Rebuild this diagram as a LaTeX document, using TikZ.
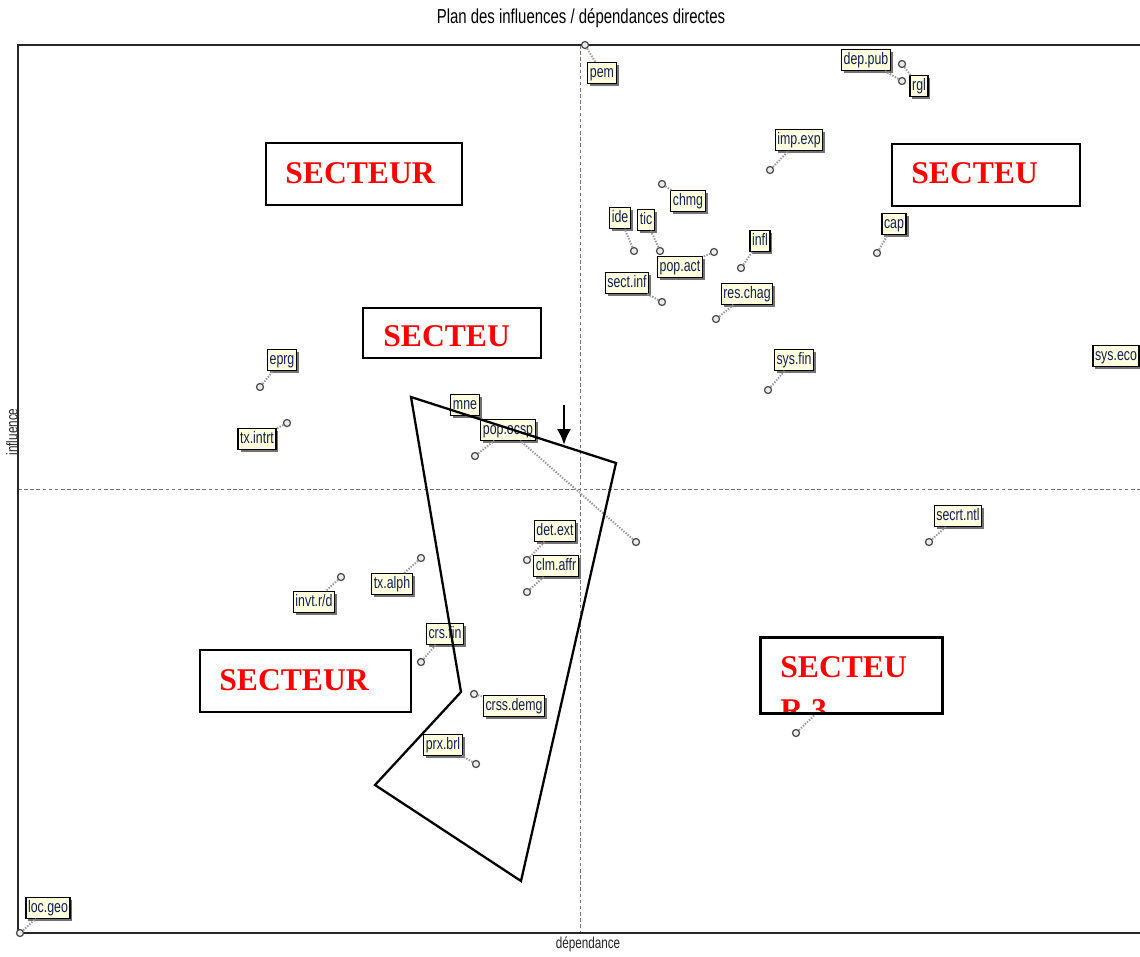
\documentclass[tikz,border=0pt]{standalone}
\usepackage{fontspec}
\setmainfont{Liberation Sans}
\newfontfamily\narrowfont[FakeStretch=0.74]{Liberation Sans}
\newfontfamily\secfont{Liberation Serif}
\usetikzlibrary{shadows,arrows.meta}
\definecolor{labfill}{HTML}{FFFFE0}
\definecolor{labtext}{HTML}{102050}
\definecolor{secred}{HTML}{FF0000}
\tikzset{
  lab/.style={draw=black, line width=0.7pt, fill=labfill, inner sep=1.2pt,
    text=labtext, font=\narrowfont\fontsize{9.5}{10}\selectfont,
    text height=7.3pt, text depth=1.9pt,
    drop shadow={shadow xshift=1.4pt, shadow yshift=-1.4pt, fill=black!55, opacity=1}},
  mk/.style={circle, draw=black!70, fill=black!8, line width=0.7pt, inner sep=0pt, minimum size=4pt},
  con/.style={draw=black!40, line width=1.1pt, dash pattern=on 0.8pt off 0.8pt},
  axis/.style={draw=black!55, line width=0.5pt, dash pattern=on 2pt off 1.5pt},
  frame/.style={draw=black!85, line width=1.1pt},
  secbox/.style={draw=black, line width=1.1pt, fill=white, anchor=north west, inner sep=0pt},
  sectext/.style={text=secred, font=\secfont\bfseries\fontsize{18}{20}\selectfont, anchor=base west, inner sep=0pt},
  axlab/.style={font=\narrowfont\fontsize{9}{10}\selectfont, text=black!85, inner sep=0pt}
}
\begin{document}
\begin{tikzpicture}[x=0.02cm,y=-0.02cm]
\useasboundingbox (0,0) rectangle (1140,957);
% title and axis titles
\node[font=\narrowfont\fontsize{11.5}{13}\selectfont, inner sep=0pt] (title) at (581,18) {Plan des influences / dépendances directes};
\node[axlab] (xlab) at (588,944) {dépendance};
\node[axlab, rotate=90] (ylab) at (12,432) {influence};
% frame
\coordinate (fTL) at (18,45);
\coordinate (fTR) at (1140,45);
\coordinate (fBL) at (18,933);
\coordinate (fBR) at (1140,933);
\draw[axis] (580,45) -- (580,933);
\draw[axis] (18,489) -- (1140,489);
\draw[frame] (fTR) -- (fTL) -- (fBL) -- (fBR);

% markers
\node[mk] (mpem) at (585,45) {};
\node[mk] (mdep) at (902,81) {};
\node[mk] (mrgl) at (902,64) {};
\node[mk] (mimp) at (770,170) {};
\node[mk] (mchmg) at (662,184) {};
\node[mk] (mide) at (634,251) {};
\node[mk] (mtic) at (660,251) {};
\node[mk] (mpop) at (714,252) {};
\node[mk] (minfl) at (741,268) {};
\node[mk] (msect) at (662,302) {};
\node[mk] (mres) at (716,319) {};
\node[mk] (mcap) at (877,253) {};
\node[mk] (msys) at (768,390) {};
\node[mk] (meprg) at (260,387) {};
\node[mk] (mtxi) at (287,423) {};
\node[mk] (mmne) at (475,456) {};
\node[mk] (mocsp) at (636,542) {};
\node[mk] (mdet) at (527,560) {};
\node[mk] (mclm) at (527,592) {};
\node[mk] (mtxa) at (421,558) {};
\node[mk] (minvt) at (341,577) {};
\node[mk] (mcrs) at (421,662) {};
\node[mk] (mcrss) at (474,694) {};
\node[mk] (mprx) at (476,764) {};
\node[mk] (msecrt) at (929,542) {};
\node[mk] (mhid) at (796,733) {};
\node[mk] (mloc) at (20,933) {};

% labels
\node[lab] (pem) at (602,73) {pem};
\node[lab] (dep) at (866,60) {dep.pub};
\node[lab] (rgl) at (919,86) {rgl};
\node[lab] (imp) at (799,140) {imp.exp};
\node[lab] (chmg) at (688,201) {chmg};
\node[lab] (ide) at (620,218) {ide};
\node[lab] (tic) at (646,220) {tic};
\node[lab] (pop) at (680,267) {pop.act};
\node[lab] (infl) at (760,241) {infl};
\node[lab] (sect) at (627,283) {sect.inf};
\node[lab] (res) at (747,294) {res.chag};
\node[lab] (cap) at (894,224) {cap};
\node[lab] (sys) at (794,360) {sys.fin};
\node[lab] (syseco) at (1116,356) {sys.eco};
\node[lab] (eprg) at (282,360) {eprg};
\node[lab] (txi) at (257,439) {tx.intrt};
\node[lab] (mne) at (465,405) {mne};
\node[lab] (ocsp) at (508,430) {pop.ocsp};
\node[lab] (det) at (555,531) {det.ext};
\node[lab] (clm) at (556,566) {clm.affr};
\node[lab] (txa) at (392,584) {tx.alph};
\node[lab] (invt) at (314,602) {invt.r/d};
\node[lab] (crs) at (445,634) {crs.fin};
\node[lab] (crss) at (514,706) {crss.demg};
\node[lab] (prx) at (443,745) {prx.brl};
\node[lab] (secrt) at (958,516) {secrt.ntl};
\node[lab, minimum width=1.06cm] (hid) at (828,702) {};
\node[lab] (loc) at (48,908) {loc.geo};

% connectors
\foreach \m/\l in {mpem/pem, mdep/dep, mrgl/rgl, mimp/imp, mchmg/chmg, mide/ide, mtic/tic, mpop/pop, minfl/infl, msect/sect, mres/res, mcap/cap, msys/sys, meprg/eprg, mtxi/txi, mmne/ocsp, mocsp/ocsp, mdet/det, mclm/clm, mtxa/txa, minvt/invt, mcrs/crs, mcrss/crss, mprx/prx, msecrt/secrt, mhid/hid, mloc/loc}
  \draw[con] (\m) -- (\l);

% polygon
\coordinate (p1) at (411,397);
\coordinate (p2) at (616,463);
\coordinate (p3) at (521,881);
\coordinate (p4) at (375,785);
\coordinate (p5) at (461,692);
\draw[line width=1.3pt, line join=miter] (p1) -- (p2) -- (p3) -- (p4) -- (p5) -- cycle;

% arrow
\coordinate (a1) at (564,405);
\coordinate (a2) at (564,445);
\draw[line width=1.5pt, -{Latex[length=9pt,width=8pt]}] (a1) -- (a2);

% sector boxes
\node[secbox, minimum width=3.92cm, minimum height=1.24cm] (s1) at (265,142) {};
\node[sectext] (t1) at (285,183) {SECTEUR};
\node[secbox, minimum width=3.76cm, minimum height=1.24cm] (s2) at (891,143) {};
\node[sectext] (t2) at (911,183) {SECTEU};
\node[secbox, minimum width=3.56cm, minimum height=1.0cm] (s3) at (362,307) {};
\node[sectext] (t3) at (383,346) {SECTEU};
\node[secbox, minimum width=4.22cm, minimum height=1.24cm] (s4) at (199,649) {};
\node[sectext] (t4) at (219,690) {SECTEUR};
\node[secbox, minimum width=3.62cm, minimum height=1.5cm] (s5) at (760,637) {};
\begin{scope}
  \clip (761,638) rectangle (940,711);
  \node[sectext] (t5) at (780,677) {SECTEU};
  \node[sectext] (t5b) at (780,720) {R 3};
\end{scope}
\draw[line width=1.1pt] (s5.north west) rectangle (s5.south east);
\end{tikzpicture}
\end{document}
